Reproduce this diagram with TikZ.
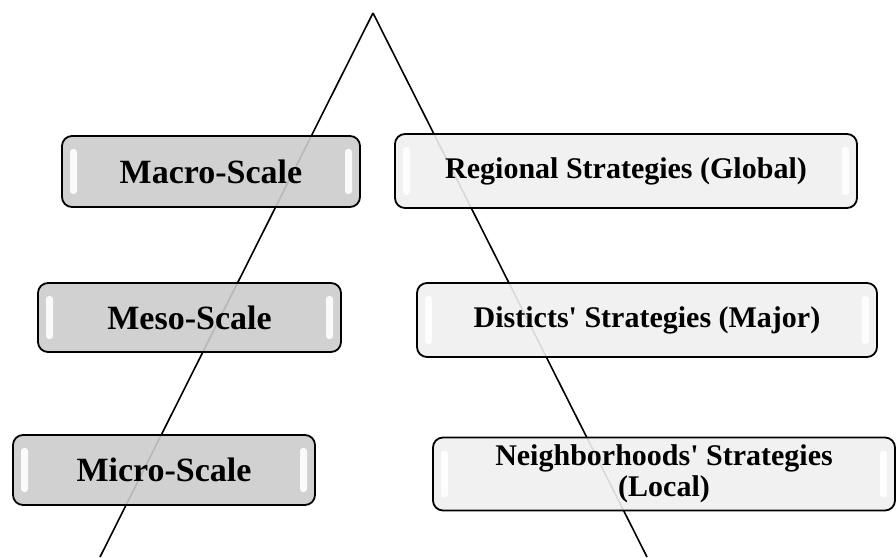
\documentclass[tikz,border=0pt]{standalone}
\usepackage{fontspec}
\setmainfont{Liberation Serif}[Ligatures=TeXOff]
\usepackage{tikz}
\usetikzlibrary{positioning}
\usepackage{xcolor}
\definecolor{scalefill}{gray}{0.80}
\definecolor{stratfill}{gray}{0.94}
\tikzset{
glossbox/.style={draw=black,line width=1.8pt,rounded corners=10pt,
  fill opacity=0.9,text opacity=1,align=center,inner sep=0pt,
  path picture={
  \fill[white,opacity=0.9,rounded corners=3pt]
    ([xshift=8pt,yshift=-13pt]path picture bounding box.north west) rectangle
    ([xshift=15pt,yshift=13pt]path picture bounding box.south west);
  \fill[white,opacity=0.9,rounded corners=3pt]
    ([xshift=-8pt,yshift=-13pt]path picture bounding box.north east) rectangle
    ([xshift=-15pt,yshift=13pt]path picture bounding box.south east);
  }},
scalebox/.style={glossbox,fill=scalefill,font=\bfseries\fontsize{34}{38}\selectfont},
stratbox/.style={glossbox,fill=stratfill,font=\bfseries\fontsize{30}{31}\selectfont},
}
\begin{document}
\begin{tikzpicture}[x=1pt,y=-1pt]
\useasboundingbox (0,0) rectangle (896,557);
% the pyramid behind the boxes
\coordinate (apex) at (373,13);
\coordinate (lbot) at (100,557);
\coordinate (rbot) at (647,557);
\draw[line width=1.6pt] (apex) -- (lbot);
\draw[line width=1.6pt] (apex) -- (rbot);
% scales (left)
\node[scalebox,minimum width=298,minimum height=71] (macro) at (211,171.5) {Macro-Scale};
\node[scalebox,minimum width=303,minimum height=69] (meso) at (189.5,317.5) {Meso-Scale};
\node[scalebox,minimum width=302,minimum height=70] (micro) at (164,470) {Micro-Scale};
% strategies (right)
\node[stratbox,minimum width=462,minimum height=74] (regional) at (626,171) {Regional Strategies (Global)};
\node[stratbox,minimum width=460,minimum height=74] (districts) at (647,320) {Disticts' Strategies (Major)};
\node[stratbox,minimum width=462,minimum height=73] (neighb) at (664,474) {Neighborhoods' Strategies\\(Local)};
\end{tikzpicture}
\end{document}
